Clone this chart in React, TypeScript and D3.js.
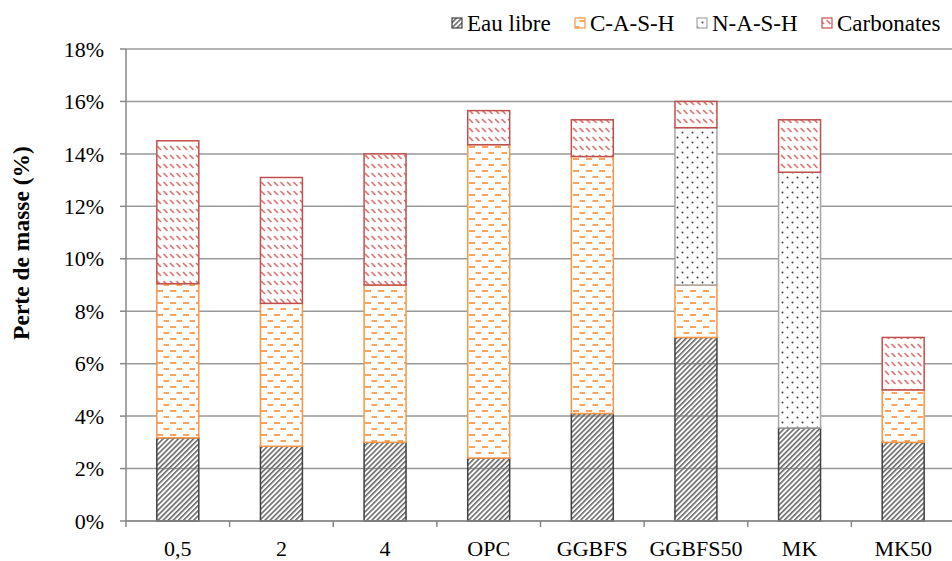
import React from "react";
import * as d3 from "d3";

const categories = ["0,5", "2", "4", "OPC", "GGBFS", "GGBFS50", "MK", "MK50"];
const eauLibre = [3.17, 2.85, 3.0, 2.4, 4.1, 7.0, 3.55, 3.0];
const cash = [5.88, 5.45, 6.0, 11.95, 9.8, 2.0, 0, 2.0];
const nash = [0, 0, 0, 0, 0, 6.0, 9.75, 0];
const carbonates = [5.45, 4.8, 5.0, 1.3, 1.4, 1.0, 2.0, 2.0];
const seriesNames = ["Eau libre", "C-A-S-H", "N-A-S-H", "Carbonates"];
const yTicks = [0, 2, 4, 6, 8, 10, 12, 14, 16, 18];

const W = 952;
const H = 561;
const FONT = "Liberation Serif, Times New Roman, serif";

const fills = ["url(#pEau)", "url(#pCash)", "url(#pNash)", "url(#pCarb)"];
const strokes = ["#404040", "#F79646", "#A6A6A6", "#C0504D"];

export default function App() {
  const x = d3.scaleBand<string>().domain(categories).range([126, 955]).padding(0);
  const y = d3.scaleLinear().domain([0, 18]).range([521, 49]);
  const barW = x.bandwidth() * 0.405;

  const rows = categories.map((c, i) => ({
    cat: c,
    "Eau libre": eauLibre[i],
    "C-A-S-H": cash[i],
    "N-A-S-H": nash[i],
    Carbonates: carbonates[i],
  }));
  const stack = d3.stack<any>().keys(seriesNames)(rows);

  const legendX = [452, 575, 697, 822];
  const ts: React.CSSProperties = { fontFamily: FONT };

  return (
    <svg width={W} height={H} style={{ position: "absolute", left: 0, top: 0, fontFamily: FONT }}>
      <defs>
        <pattern id="pEau" patternUnits="userSpaceOnUse" width="3.6" height="3.6" patternTransform="rotate(45)">
          <rect x="0" y="0" width="1.6" height="3.6" fill="#6a6a6a" />
        </pattern>
        <pattern id="pCash" patternUnits="userSpaceOnUse" width="13" height="12">
          <rect width="13" height="12" fill="#fff" />
          <rect x="1" y="2" width="6" height="2" fill="#F9A35E" />
          <rect x="7.5" y="8" width="6" height="2" fill="#F9A35E" />
        </pattern>
        <pattern id="pNash" patternUnits="userSpaceOnUse" width="10" height="10">
          <rect width="10" height="10" fill="#fff" />
          <circle cx="2.5" cy="2.5" r="1" fill="#404040" />
          <circle cx="7.5" cy="7.5" r="1" fill="#404040" />
        </pattern>
        <pattern id="pCarb" patternUnits="userSpaceOnUse" width="6.5" height="9">
          <rect width="6.5" height="9" fill="#fff" />
          <line x1="1" y1="2" x2="5" y2="6" stroke="#D46A6A" strokeWidth="1.6" />
        </pattern>
      </defs>

      {/* gridlines */}
      {yTicks.map((t) => (
        <line key={"g" + t} x1={126} x2={W} y1={y(t)} y2={y(t)} stroke="#999" strokeWidth={1.5} />
      ))}

      {/* bars */}
      {stack.map((s, si) =>
        s.map((d, i) => {
          const v = d[1] - d[0];
          if (v <= 0) return null;
          const cx = (x(categories[i]) as number) + x.bandwidth() / 2;
          return (
            <rect
              key={si + "-" + i}
              x={cx - barW / 2}
              y={y(d[1])}
              width={barW}
              height={y(d[0]) - y(d[1])}
              fill={fills[si]}
              stroke={strokes[si]}
              strokeWidth={1.5}
            />
          );
        })
      )}

      {/* y axis */}
      <line x1={126} x2={126} y1={y(18)} y2={y(0)} stroke="#888" strokeWidth={1.5} />
      {yTicks.map((t) => (
        <g key={"t" + t}>
          <line x1={120} x2={126} y1={y(t)} y2={y(t)} stroke="#888" strokeWidth={1.5} />
          <text x={104} y={y(t)} dy="0.35em" textAnchor="end" fontSize={22} fill="#000" style={ts}>
            {t + "%"}
          </text>
        </g>
      ))}

      {/* x axis */}
      <line x1={126} x2={W} y1={y(0)} y2={y(0)} stroke="#888" strokeWidth={1.5} />
      {categories.map((c, i) => (
        <line
          key={"xt" + i}
          x1={x(c) as number}
          x2={x(c) as number}
          y1={y(0)}
          y2={y(0) + 6}
          stroke="#888"
          strokeWidth={1.5}
        />
      ))}
      {categories.map((c) => (
        <text
          key={"xl" + c}
          x={(x(c) as number) + x.bandwidth() / 2}
          y={556}
          textAnchor="middle"
          fontSize={22}
          fill="#000"
          style={ts}
        >
          {c}
        </text>
      ))}

      {/* y title */}
      <text
        transform={`translate(29, 243) rotate(-90)`}
        textAnchor="middle"
        fontSize={23.5}
        fontWeight="bold"
        fill="#000"
        style={ts}
      >
        Perte de masse (%)
      </text>

      {/* legend */}
      {seriesNames.map((n, i) => (
        <g key={"lg" + n}>
          <rect
            x={legendX[i]}
            y={18}
            width={10}
            height={10}
            fill={fills[i]}
            stroke={strokes[i]}
            strokeWidth={1.2}
          />
          <text x={legendX[i] + 15} y={23} dy="0.35em" fontSize={23} fill="#000" style={ts}>
            {n}
          </text>
        </g>
      ))}
    </svg>
  );
}
